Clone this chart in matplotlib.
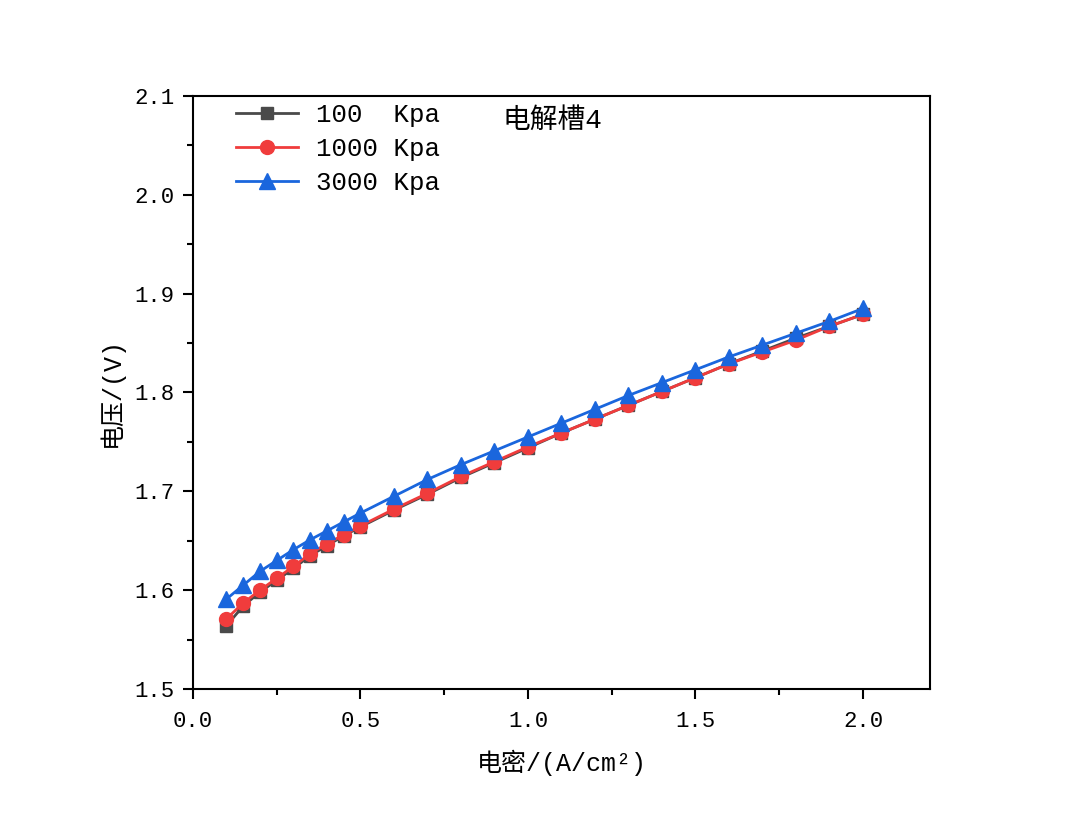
import matplotlib
matplotlib.use('Agg')
import matplotlib.pyplot as plt
from matplotlib.ticker import MultipleLocator, FormatStrFormatter

# 字体：西文用等宽衬线，中文回退到 Noto CJK
plt.rcParams['font.family'] = ['Liberation Mono', 'Noto Sans CJK SC']
plt.rcParams['axes.unicode_minus'] = False

# 电流密度 (A/cm2)
current_density = [0.1, 0.15, 0.2, 0.25, 0.3, 0.35, 0.4, 0.45, 0.5, 0.6, 0.7, 0.8, 0.9,
                   1.0, 1.1, 1.2, 1.3, 1.4, 1.5, 1.6, 1.7, 1.8, 1.9, 2.0]

# 各压力下的电压 (V)
v_100 = [1.564, 1.584, 1.598, 1.610, 1.622, 1.635, 1.645, 1.655, 1.664, 1.681, 1.697, 1.714,
         1.729, 1.744, 1.759, 1.773, 1.787, 1.801, 1.815, 1.829, 1.842, 1.855, 1.867, 1.879]
v_1000 = [1.571, 1.587, 1.600, 1.612, 1.624, 1.637, 1.647, 1.656, 1.665, 1.682, 1.698, 1.715,
          1.730, 1.745, 1.759, 1.773, 1.787, 1.801, 1.815, 1.829, 1.841, 1.853, 1.867, 1.879]
v_3000 = [1.591, 1.605, 1.619, 1.630, 1.641, 1.651, 1.660, 1.669, 1.678, 1.695, 1.712, 1.727,
          1.741, 1.755, 1.769, 1.783, 1.797, 1.810, 1.823, 1.836, 1.848, 1.860, 1.872, 1.885]

labels = ['100  Kpa', '1000 Kpa', '3000 Kpa']

fig = plt.figure(figsize=(10.8, 8.26), dpi=100)
ax = fig.add_axes([0.1787, 0.1659, 0.6824, 0.7179])

ax.plot(current_density, v_100, color='#4a4a4a', marker='s', markersize=9, linewidth=2, label=labels[0])
ax.plot(current_density, v_1000, color='#f03c3c', marker='o', markersize=10, linewidth=2, label=labels[1])
ax.plot(current_density, v_3000, color='#1a66dd', marker='^', markersize=11, linewidth=2, label=labels[2])

ax.set_xlim(0, 2.2)
ax.set_ylim(1.5, 2.1)
ax.xaxis.set_major_locator(MultipleLocator(0.5))
ax.xaxis.set_minor_locator(MultipleLocator(0.25))
ax.yaxis.set_major_locator(MultipleLocator(0.1))
ax.yaxis.set_minor_locator(MultipleLocator(0.05))
ax.xaxis.set_major_formatter(FormatStrFormatter('%.1f'))
ax.yaxis.set_major_formatter(FormatStrFormatter('%.1f'))

for s in ax.spines.values():
    s.set_linewidth(1.5)
ax.tick_params(which='major', direction='out', length=7, width=1.5, labelsize=16, pad=6)
ax.tick_params(axis='x', which='major', pad=9)
ax.tick_params(which='minor', direction='out', length=4, width=1.5)

ax.set_xlabel('电密/(A/cm²)', fontsize=18, labelpad=13)
ax.set_ylabel('电压/(V)', fontsize=18, labelpad=8)

ax.text(0.42, 0.98, '电解槽4', transform=ax.transAxes, fontsize=20, va='top', ha='left')

ax.legend(loc='upper left', bbox_to_anchor=(0.045, 1.005), frameon=False, fontsize=18.5,
          handlelength=2.4, handletextpad=0.7, labelspacing=0.38, borderaxespad=0)

fig.savefig('out.png', dpi=100)
